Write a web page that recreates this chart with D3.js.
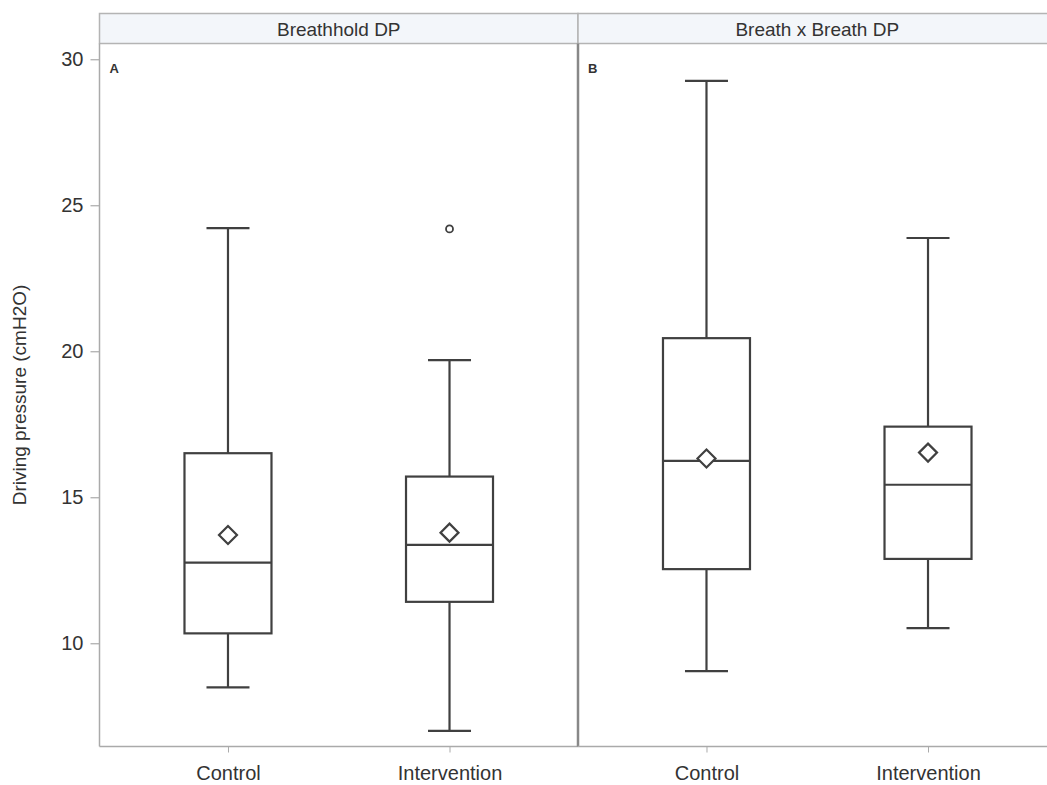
<!DOCTYPE html>
<html>
<head>
<meta charset="utf-8">
<script src="https://cdn.jsdelivr.net/npm/d3@7"></script>
<style>
body { margin:0; background:#fff; }
svg { display:block; font-family:"Liberation Sans", Arial, sans-serif; }
</style>
</head>
<body>
<div id="chart"></div>
<script>
// panels + groups
var panels = ["Breathhold DP", "Breath x Breath DP"];
var panelTags = ["A", "B"];
var groups = ["Control", "Intervention"];
var yTicks = [10, 15, 20, 25, 30];

// box stats per panel, order = groups
var lowWhisker = [[8.49, 7.0], [9.05, 10.52]];
var q1Vals     = [[10.34, 11.42], [12.54, 12.89]];
var medianVals = [[12.76, 13.37], [16.25, 15.43]];
var q3Vals     = [[16.51, 15.71], [20.45, 17.42]];
var highWhisker= [[24.22, 19.70], [29.26, 23.88]];
var meanVals   = [[13.71, 13.79], [16.33, 16.53]];
var outliers   = [[[], [24.19]], [[], []]];

var W = 1047, H = 785;
var plotLeft = 99.5, plotTop = 43.5, plotBottom = 746.5, panelW = 478.5, stripH = 30;
var fs = 20;

var svg = d3.select("#chart").append("svg")
  .attr("width", W).attr("height", H);

var y = d3.scaleLinear().domain([10, 30]).range([643.3, 59.3]);
var x = d3.scalePoint().domain(groups).range([0, panelW]).padding(0.58);
var boxW = 87, capW = 43;
var ink = "#404040";

// y axis
var yAxis = svg.append("g").attr("transform", "translate(" + plotLeft + ",0)")
  .call(d3.axisLeft(y).tickValues(yTicks).tickSize(9).tickPadding(7));
yAxis.select(".domain").remove();
yAxis.selectAll(".tick line").attr("stroke", "#999");
yAxis.selectAll(".tick text").attr("font-size", fs).attr("fill", "#333");

svg.append("text")
  .attr("transform", "translate(26," + ((plotTop + plotBottom) / 2) + ") rotate(-90)")
  .attr("text-anchor", "middle")
  .attr("font-size", fs - 1).attr("fill", "#333")
  .text("Driving pressure (cmH2O)");

panels.forEach(function(p, pi) {
  var px = plotLeft + pi * panelW;
  var g = svg.append("g").attr("transform", "translate(" + px + ",0)");

  // strip
  g.append("rect")
    .attr("x", 0).attr("y", plotTop - stripH).attr("width", panelW).attr("height", stripH)
    .attr("fill", "#f3f6fa").attr("stroke", "#b4b4b4").attr("stroke-width", 1.5);
  g.append("text")
    .attr("x", panelW / 2).attr("y", plotTop - stripH / 2 + 7)
    .attr("text-anchor", "middle").attr("font-size", fs - 1).attr("fill", "#333")
    .text(p);

  // panel frame
  g.append("line").attr("x1", 0).attr("x2", 0).attr("y1", plotTop).attr("y2", plotBottom)
    .attr("stroke", pi == 0 ? "#aaa" : "#888").attr("stroke-width", pi == 0 ? 1.5 : 2.5);
  g.append("line").attr("x1", 0).attr("x2", panelW).attr("y1", plotBottom).attr("y2", plotBottom)
    .attr("stroke", "#aaa").attr("stroke-width", 1.5);

  g.append("text").attr("x", 10).attr("y", 73)
    .attr("font-size", 13).attr("font-weight", "bold").attr("fill", "#333")
    .text(panelTags[pi]);

  // x axis
  var xa = g.append("g").attr("transform", "translate(0," + plotBottom + ")")
    .call(d3.axisBottom(x).tickSize(6).tickPadding(13));
  xa.select(".domain").remove();
  xa.selectAll(".tick line").attr("stroke", "#aaa");
  xa.selectAll(".tick text").attr("font-size", fs).attr("fill", "#333");

  groups.forEach(function(gr, gi) {
    var cx = x(gr);
    var b = g.append("g").attr("fill", "none").attr("stroke", ink).attr("stroke-width", 2.2);
    b.append("line").attr("x1", cx).attr("x2", cx)
      .attr("y1", y(highWhisker[pi][gi])).attr("y2", y(q3Vals[pi][gi]));
    b.append("line").attr("x1", cx).attr("x2", cx)
      .attr("y1", y(q1Vals[pi][gi])).attr("y2", y(lowWhisker[pi][gi]));
    [highWhisker[pi][gi], lowWhisker[pi][gi]].forEach(function(v) {
      b.append("line").attr("x1", cx - capW / 2).attr("x2", cx + capW / 2)
        .attr("y1", y(v)).attr("y2", y(v));
    });
    b.append("rect").attr("x", cx - boxW / 2).attr("width", boxW)
      .attr("y", y(q3Vals[pi][gi])).attr("height", y(q1Vals[pi][gi]) - y(q3Vals[pi][gi]));
    b.append("line").attr("x1", cx - boxW / 2).attr("x2", cx + boxW / 2)
      .attr("y1", y(medianVals[pi][gi])).attr("y2", y(medianVals[pi][gi]));
    var my = y(meanVals[pi][gi]), d = 9;
    b.append("path")
      .attr("d", "M" + cx + "," + (my - d) + "L" + (cx + d) + "," + my + "L" + cx + "," + (my + d) + "L" + (cx - d) + "," + my + "Z")
      .attr("fill", "#fff");
    outliers[pi][gi].forEach(function(v) {
      b.append("circle").attr("cx", cx).attr("cy", y(v)).attr("r", 3.5).attr("stroke-width", 1.8);
    });
  });
});
</script>
</body>
</html>
